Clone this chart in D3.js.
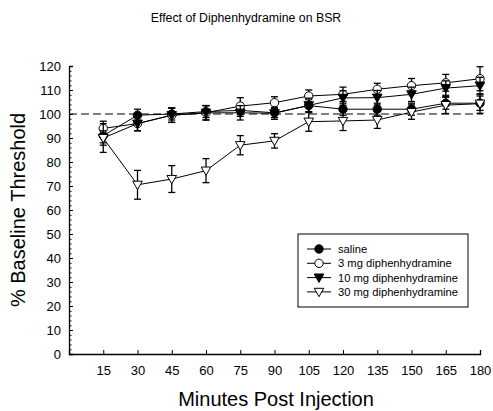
<!DOCTYPE html>
<html><head><meta charset="utf-8">
<script src="https://cdn.jsdelivr.net/npm/d3@7"></script>
<style>body{margin:0;background:#fff}svg{display:block}text{font-family:"Liberation Sans",Arial,sans-serif;fill:#000}</style>
</head><body>
<script>
const minutes = [15,30,45,60,75,90,105,120,135,150,165,180];
const xTicks = [15,30,45,60,75,90,105,120,135,150,165,180];
const yTicks = [0,10,20,30,40,50,60,70,80,90,100,110,120];
const seriesNames = ["saline","3 mg diphenhydramine","10 mg diphenhydramine","30 mg diphenhydramine"];
const saline = [91,99.5,100,101,101.5,100.5,103.5,102,102,102,104.5,104.5];
const salineErr = [3,2.5,2.5,2.5,2.5,2,2.5,2.5,2.5,2.5,2.5,3];
const mg3 = [94,96,99.5,100.5,103.3,104.7,107.5,108.2,110.3,111.8,113,114.7];
const mg3Err = [3,3,3,3,3.5,2.5,2.5,3,2.5,3,3.5,5];
const mg10 = [90,96,99.5,100.5,100.5,100.3,103.6,106.7,106.8,108.2,110.8,111.8];
const mg10Err = [3,3,3,3,3,2.5,3,3,3,3,3,3.5];
const mg30 = [90,70.5,72.9,76.4,87,88.8,96.8,97.1,97.5,100.8,103.7,104.3];
const mg30Err = [6,6,5.6,5,4,3,4,4,3.5,3,3.5,4];

const W=493,H=411;
const svg=d3.select("body").append("svg").attr("width",W).attr("height",H);
const x=d3.scaleLinear().domain([0,180]).range([69,480]);
const y=d3.scaleLinear().domain([0,120]).range([354,66]);

svg.append("text").attr("x",246).attr("y",22).attr("text-anchor","middle").attr("font-size",12.3).text("Effect of Diphenhydramine on BSR");

// axes
const yAxis=svg.append("g").attr("transform","translate(69,0)")
  .call(d3.axisLeft(y).tickValues(yTicks).tickSize(-4).tickPadding(8));
yAxis.selectAll("text").attr("font-size",13);
svg.append("g").attr("transform","translate(69,0)")
  .call(d3.axisLeft(y).tickValues(d3.range(0,121,2).filter(v=>v%10)).tickSize(-2.5).tickFormat(""))
  .select(".domain").remove();
const xAxis=svg.append("g").attr("transform","translate(0,354)")
  .call(d3.axisBottom(x).tickValues(xTicks).tickSize(-4).tickPadding(12));
xAxis.selectAll("text").attr("font-size",13);
svg.selectAll(".domain").attr("stroke","#000").attr("stroke-width",1.3);
svg.selectAll(".tick line").attr("stroke","#000");

svg.append("text").attr("transform","translate(25,210) rotate(-90)").attr("text-anchor","middle").attr("font-size",20).text("% Baseline Threshold");
svg.append("text").attr("x",276).attr("y",406).attr("text-anchor","middle").attr("font-size",20).text("Minutes Post Injection");

// reference line
svg.append("line").attr("x1",x(0)).attr("x2",x(180)+3).attr("y1",y(100)).attr("y2",y(100))
  .attr("stroke","#000").attr("stroke-dasharray","8,4");

const series=[
 {name:seriesNames[0],vals:saline,err:salineErr,shape:"circle",fill:"#000"},
 {name:seriesNames[1],vals:mg3,err:mg3Err,shape:"circle",fill:"#fff"},
 {name:seriesNames[2],vals:mg10,err:mg10Err,shape:"tri",fill:"#000"},
 {name:seriesNames[3],vals:mg30,err:mg30Err,shape:"tri",fill:"#fff"}
];
const line=d3.line().x((d,i)=>x(minutes[i])).y(d=>y(d));
function marker(g,s,cx,cy){
  if(s.shape==="circle") g.append("circle").attr("cx",cx).attr("cy",cy).attr("r",4.2).attr("fill",s.fill).attr("stroke","#000").attr("stroke-width",1);
  else g.append("path").attr("d",`M${cx-4.8},${cy-3.6}L${cx+4.8},${cy-3.6}L${cx},${cy+4.8}Z`).attr("fill",s.fill).attr("stroke","#000").attr("stroke-width",1);
}
series.forEach(s=>{
  const g=svg.append("g");
  s.vals.forEach((v,i)=>{
    const cx=x(minutes[i]);
    g.append("line").attr("x1",cx).attr("x2",cx).attr("y1",y(v-s.err[i])).attr("y2",y(v+s.err[i])).attr("stroke","#000").attr("stroke-width",1.3);
    [v-s.err[i],v+s.err[i]].forEach(e=>g.append("line").attr("x1",cx-3.5).attr("x2",cx+3.5).attr("y1",y(e)).attr("y2",y(e)).attr("stroke","#000").attr("stroke-width",1.3));
  });
  g.append("path").datum(s.vals).attr("d",line).attr("fill","none").attr("stroke","#000").attr("stroke-width",1);
  s.vals.forEach((v,i)=>marker(g,s,x(minutes[i]),y(v)));
});

// legend
const lg=svg.append("g");
lg.append("rect").attr("x",298).attr("y",234).attr("width",170).attr("height",73).attr("fill","#fff").attr("stroke","#000").attr("stroke-width",1);
series.forEach((s,i)=>{
  const yy=249+i*14.3;
  lg.append("line").attr("x1",307).attr("x2",331).attr("y1",yy).attr("y2",yy).attr("stroke","#000").attr("stroke-width",1);
  marker(lg,s,319,yy);
  lg.append("text").attr("x",338).attr("y",yy+4).attr("font-size",11.2).text(s.name);
});
</script>
</body></html>
